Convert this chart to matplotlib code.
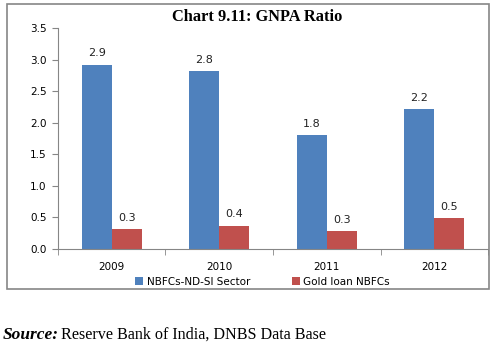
import matplotlib
matplotlib.use("Agg")
import matplotlib.pyplot as plt
from matplotlib.patches import Rectangle
import numpy as np

years = ["2009", "2010", "2011", "2012"]
nbfc_ndsi = [2.92, 2.82, 1.80, 2.22]
gold_loan = [0.32, 0.37, 0.28, 0.49]
series_names = ["NBFCs-ND-SI Sector", "Gold loan NBFCs"]

blue = "#4F81BD"
red = "#C0504D"
grey = "#868686"

fig = plt.figure(figsize=(4.95, 3.45), dpi=100)
ax = fig.add_axes([0.117, 0.278, 0.869, 0.641])

x = np.arange(len(years))
w = 0.28
b1 = ax.bar(x - w / 2, nbfc_ndsi, w, color=blue, label=series_names[0])
b2 = ax.bar(x + w / 2, gold_loan, w, color=red, label=series_names[1])

for bars in (b1, b2):
    for rect in bars:
        h = rect.get_height()
        ax.text(rect.get_x() + rect.get_width() / 2, h + 0.1, "%.1f" % h,
                ha="center", va="bottom", fontsize=8, family="DejaVu Sans",
                color="#222222")

ax.set_ylim(0, 3.5)
ax.set_yticks(np.arange(0, 3.51, 0.5))
ax.set_yticklabels(["%.1f" % v for v in np.arange(0, 3.51, 0.5)], fontsize=7.5)
ax.set_xlim(-0.5, len(years) - 0.5)
ax.set_xticks(x)
ax.set_xticklabels(years, fontsize=7.5)
ax.set_xticks(np.arange(-0.5, len(years), 1), minor=True)
ax.tick_params(axis="x", which="major", length=0, pad=9)
ax.tick_params(axis="x", which="minor", length=4, direction="out", color=grey)
ax.tick_params(axis="y", length=4, direction="out", color=grey, pad=4)

for s in ("top", "right"):
    ax.spines[s].set_visible(False)
for s in ("left", "bottom"):
    ax.spines[s].set_color(grey)

fig.text(0.519, 0.951, "Chart 9.11: GNPA Ratio", ha="center", va="center",
         fontsize=11.8, fontweight="bold", family="Liberation Serif")

fig.legend(handles=[b1, b2], loc="center", bbox_to_anchor=(0.53, 0.183),
           ncol=2, frameon=False, fontsize=7.5, handlelength=0.8,
           handleheight=0.8, handletextpad=0.3, columnspacing=4.0)

# outer frame round the chart
fig.add_artist(Rectangle((7 / 495, 1 - 289 / 345), 482 / 495, 285 / 345,
                         transform=fig.transFigure, fill=False,
                         edgecolor=grey, linewidth=1.2))

# source line: bold italic lead-in, then plain text right after it
src = fig.text(0.005, 0.03, "Source:", ha="left", va="center", fontsize=12.5,
               fontweight="bold", style="italic", family="Liberation Serif")
fig.canvas.draw()
ext = src.get_window_extent(fig.canvas.get_renderer())
fig.text(ext.x1 / fig.bbox.width + 0.006, 0.03,
         "Reserve Bank of India, DNBS Data Base", ha="left", va="center",
         fontsize=11.6, family="Liberation Serif")

fig.savefig("out.png", dpi=100)
